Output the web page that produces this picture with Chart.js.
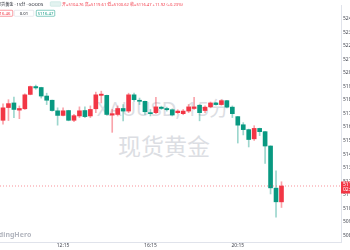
<!DOCTYPE html>
<html lang="zh-CN">
<head>
<meta charset="UTF-8">
<title>现货黄金 · 15分</title>
<script src="https://cdn.jsdelivr.net/npm/chart.js"></script>
<style>
  html, body { margin: 0; padding: 0; background: #fff; }
  #wrap { position: relative; width: 350px; height: 250px; overflow: hidden;
          font-family: "Noto Sans", "Noto Sans CJK SC", sans-serif; }
  #chart { position: absolute; left: 0; top: 0; z-index: 1; }
  .wm { position: absolute; z-index: 0; color: #dcdee3; white-space: nowrap; }
  /* header is laid out at 2x and scaled down, so tiny text is not clamped */
  #hdr { position: absolute; left: 0; top: 0; width: 700px; height: 40px; z-index: 2;
         transform: scale(0.5); transform-origin: 0 0; }
  #hdr div { position: absolute; white-space: nowrap; }
  .t { font-size: 8.2px; line-height: 12px; }
  .box { font-size: 8.5px; line-height: 11px; height: 11px; border: 1.2px solid;
         border-radius: 2px; text-align: center; background: #fff; }
</style>
</head>
<body>
<div id="wrap">
  <div class="wm" style="left:97px; top:99px; font-size:20px; line-height:20px;">XAUUSD, 15分</div>
  <div class="wm" style="left:118px; top:134px; font-size:23px; line-height:24px;">现货黄金</div>
  <div id="hdr">
    <div class="t" style="left:-6px; top:2px; color:#131722;">现货黄金 · 15分 · GOODS</div>
    <div style="left:100px; top:3px; width:20px; height:8px; border:1px solid #b8dfd8; border-radius:2px; background:#e3f3f0;"></div>
    <div class="t" style="left:124px; top:2px; color:#f23645;">开=5104.76 高=5119.61 低=5100.62 收=5116.47 +11.92 (+0.23%)</div>
    <div class="box" style="left:-16px; top:20px; width:40px; border-color:#f23645; color:#f23645;">5116.46</div>
    <div class="box" style="left:28px; top:20px; width:38px; border-color:#d1d4dc; color:#131722;">0.01</div>
    <div class="box" style="left:72px; top:20px; width:36px; border-color:#089981; color:#089981;">5116.47</div>
  </div>
  <div class="wm" style="left:-12px; top:231px; font-size:7px; line-height:8px; color:#b2b5be; font-weight:bold; z-index:2;">TradingHero</div>
  <canvas id="chart" width="350" height="250"></canvas>
</div>
<script>
  const times = ['09:30','09:45','10:00','10:15','10:30','10:45','11:00','11:15','11:30','11:45',
                 '12:00','12:15','12:30','12:45','13:00','13:15','13:30','13:45','14:00','14:15',
                 '14:30','14:45','15:00','15:15','15:30','15:45','16:00','16:15','16:30','16:45',
                 '17:00','17:15','17:30','17:45','18:00','18:15','18:30','18:45','19:00','19:15',
                 '19:30','19:45','20:00','20:15','20:30','20:45','21:00','21:15','21:30','21:45',
                 '22:00','22:15'];
  const opens  = [5165.0,5174.4,5177.8,5172.5,5173.5,5184.1,5189.9,5189.2,5182.9,5179.8,
                  5172.0,5168.6,5172.2,5165.0,5168.2,5172.2,5168.2,5173.5,5183.4,5183.4,
                  5168.8,5169.3,5173.7,5171.8,5183.8,5179.8,5179.0,5170.6,5170.6,5174.7,
                  5173.7,5172.8,5170.6,5169.9,5171.8,5173.7,5176.1,5172.2,5174.9,5177.8,
                  5176.6,5179.5,5174.7,5167.7,5161.7,5158.1,5151.3,5159.0,5156.6,5146.0,
                  5114.9,5104.76];
  const highs  = [5177.1,5180.2,5182.2,5175.6,5184.5,5190.3,5191.0,5189.4,5185.0,5180.0,
                  5174.2,5174.2,5172.4,5169.4,5174.9,5174.9,5175.6,5185.8,5186.5,5183.6,
                  5173.0,5175.6,5176.6,5185.0,5185.0,5181.4,5179.2,5173.0,5181.9,5175.4,
                  5174.7,5173.5,5172.8,5173.0,5176.6,5181.9,5176.6,5175.6,5178.5,5178.3,
                  5180.2,5179.7,5175.6,5167.9,5163.3,5158.5,5161.0,5159.2,5156.8,5146.2,
                  5127.6,5119.61];
  const lows   = [5162.1,5164.8,5167.0,5166.2,5173.1,5183.8,5187.9,5181.4,5176.6,5171.7,
                  5161.4,5168.2,5164.6,5163.9,5167.0,5167.0,5167.0,5170.6,5177.8,5168.9,
                  5156.1,5168.2,5164.6,5170.6,5179.0,5176.6,5169.3,5168.2,5169.9,5173.0,
                  5171.8,5168.2,5169.9,5169.1,5170.6,5173.0,5164.6,5170.6,5174.2,5176.1,
                  5176.1,5174.2,5167.0,5148.2,5154.2,5145.3,5150.1,5153.7,5133.2,5110.6,
                  5093.4,5100.62];
  const closes = [5174.2,5177.3,5173.0,5173.7,5183.8,5189.9,5188.9,5182.9,5179.8,5172.2,
                  5168.6,5172.0,5165.0,5168.4,5172.0,5167.7,5173.0,5183.8,5184.3,5169.3,
                  5169.9,5173.7,5171.8,5183.8,5180.2,5179.0,5171.3,5169.9,5174.9,5173.7,
                  5172.8,5168.9,5171.8,5171.8,5174.9,5174.9,5170.6,5174.7,5177.8,5176.6,
                  5179.5,5174.7,5169.9,5161.4,5158.1,5150.8,5159.0,5156.6,5146.0,5115.1,
                  5104.8,5116.47];
  const xTickLabels = ['12:15', '16:15', '20:15'];
  const yTickMin = 5080, yTickMax = 5240, yTickStep = 10;

  const UP = '#f23645', DOWN = '#089981';
  const UP_WICK = 'rgba(242,54,69,0.45)', DOWN_WICK = 'rgba(8,153,129,0.4)';
  const isUp = closes.map((c, i) => c >= opens[i]);
  const lastClose = closes[closes.length - 1];
  const xMin = 0.45, xMax = 62.9;

  // red price badge on the right axis
  const priceBadge = {
    id: 'priceBadge',
    afterDraw(chart) {
      const { ctx } = chart;
      const y = chart.scales.y.getPixelForValue(lastClose);
      const left = chart.chartArea.right;
      ctx.save();
      ctx.fillStyle = UP;
      ctx.fillRect(left, y - 4.5, 12, 12);
      ctx.fillStyle = '#fff';
      ctx.font = '5px "Noto Sans"';
      ctx.textBaseline = 'middle';
      ctx.fillText(lastClose.toFixed(2), left + 2, y - 1);
      ctx.fillText('02:16', left + 2, y + 4);
      ctx.restore();
    }
  };

  const noGrid = { display: false, drawTicks: false, tickLength: 0 };

  new Chart(document.getElementById('chart'), {
    type: 'bar',
    data: {
      datasets: [
        {
          label: 'price',
          type: 'line',
          data: [{ x: xMin, y: lastClose }, { x: xMax, y: lastClose }],
          borderColor: 'rgba(242,54,69,0.55)',
          borderWidth: 1,
          borderDash: [1, 2],
          pointRadius: 0,
          order: 0
        },
        {
          label: 'body',
          data: times.map((t, i) => ({ x: i + 1, y: [opens[i], closes[i]] })),
          backgroundColor: isUp.map(u => u ? UP : DOWN),
          barThickness: 4,
          minBarLength: 1,
          grouped: false,
          order: 1
        },
        {
          label: 'wick',
          data: times.map((t, i) => ({ x: i + 1, y: [lows[i], highs[i]] })),
          backgroundColor: isUp.map(u => u ? UP_WICK : DOWN_WICK),
          barThickness: 1,
          grouped: false,
          order: 2
        }
      ]
    },
    options: {
      responsive: false,
      animation: false,
      layout: { padding: 0 },
      plugins: { legend: { display: false }, tooltip: { enabled: false } },
      scales: {
        x: {
          type: 'linear',
          offset: false,
          min: xMin,
          max: xMax,
          grid: noGrid,
          border: { display: true, color: '#e0e3eb' },
          afterBuildTicks: s => { s.ticks = xTickLabels.map(t => ({ value: times.indexOf(t) + 1 })); },
          afterFit: s => { s.height = 8; },
          ticks: {
            autoSkip: false,
            maxRotation: 0,
            padding: 1,
            color: '#434651',
            font: { family: 'Noto Sans', size: 5 },
            callback: v => times[v - 1] || ''
          }
        },
        y: {
          position: 'right',
          min: 5075.13,
          max: 5250.12,
          grid: noGrid,
          border: { display: true, color: '#e0e3eb' },
          afterFit: s => { s.width = 9; },
          ticks: {
            stepSize: yTickStep,
            autoSkip: false,
            padding: 2,
            color: '#434651',
            font: { family: 'Noto Sans', size: 5 },
            callback: v => (v >= yTickMin && v <= yTickMax) ? v.toFixed(2) : ''
          }
        }
      }
    },
    plugins: [priceBadge]
  });
</script>
</body>
</html>
